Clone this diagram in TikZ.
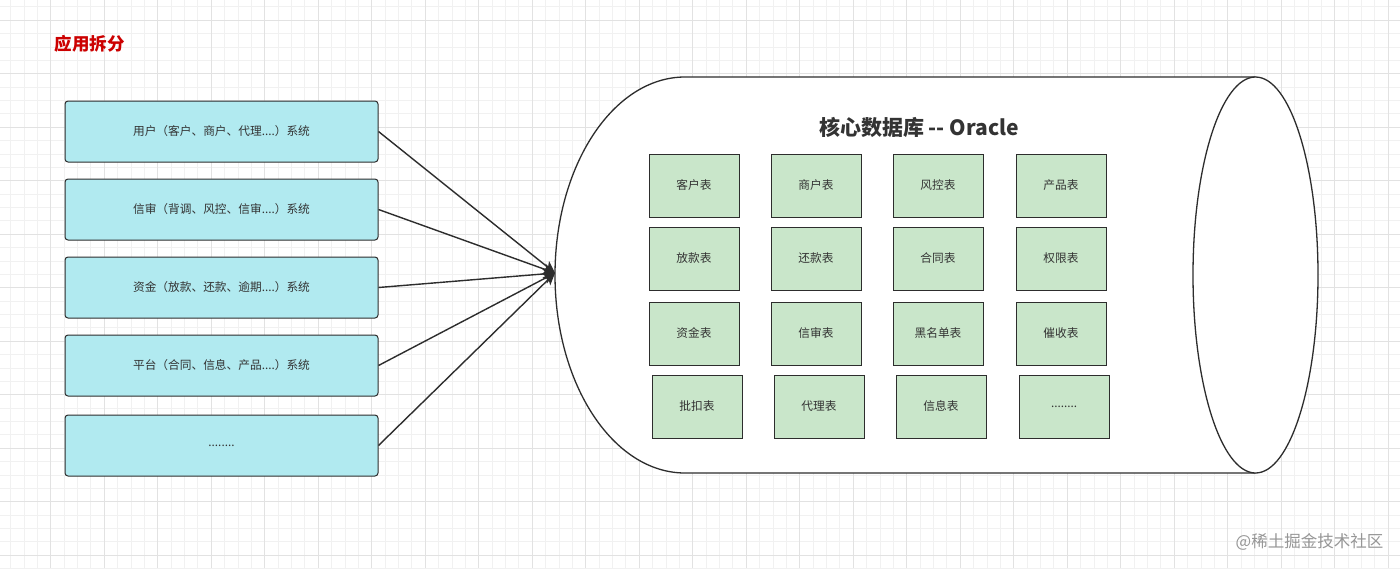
\documentclass[tikz,border=0pt]{standalone}
\usepackage{xcolor}
\usepackage{fontspec}
\setmainfont{Noto Sans CJK SC}
\usepackage{tikz}
\usetikzlibrary{arrows.meta,positioning}

\definecolor{sysfill}{RGB}{177,234,240}
\definecolor{tblfill}{RGB}{201,230,202}
\definecolor{edge}{RGB}{45,45,45}
\definecolor{txt}{RGB}{51,51,51}
\definecolor{apptitle}{RGB}{204,0,0}
\definecolor{wmgray}{RGB}{150,150,150}
\definecolor{gridminor}{RGB}{241,241,241}
\definecolor{gridmajor}{RGB}{226,226,226}

\begin{document}
\begin{tikzpicture}[x=1pt, y=-1pt,
  every node/.style={font=\fontsize{11.7}{14}\selectfont, text=txt},
  sysbox/.style={draw=edge, line width=1pt, fill=sysfill, rounded corners=3pt,
    minimum width=313pt, minimum height=61pt, inner sep=0pt},
  tblbox/.style={draw=edge, line width=1pt, fill=tblfill,
    minimum width=90pt, minimum height=63pt, inner sep=0pt},
  link/.style={-{Stealth[length=12pt,width=11pt,inset=3pt]}, line width=1.4pt, draw=edge}]
  \useasboundingbox (0,0) rectangle (1400,568);
  \fill[white] (0,0) rectangle (1400,568);
  % grid
  \foreach \k in {0,...,105} \draw[gridminor, line width=0.8pt] ({-2.8+13.375*\k},0) -- ++(0,568);
  \foreach \k in {0,...,43} \draw[gridminor, line width=0.8pt] (0,{-6.55+13.375*\k}) -- ++(1400,0);
  \foreach \k in {0,...,26} \draw[gridmajor, line width=0.8pt] ({-2.8+53.5*\k},0) -- ++(0,568);
  \foreach \k in {0,...,10} \draw[gridmajor, line width=0.8pt] (0,{20.2+53.5*\k}) -- ++(1400,0);

  \node[font=\fontsize{17.5}{20}\selectfont\bfseries, text=apptitle] (app) at (89.5,44) {应用拆分};

  \node[sysbox] (sys1) at (221.5,131.5) {用户（客户、商户、代理....）系统};
  \node[sysbox] (sys2) at (221.5,209.5) {信审（背调、风控、信审....）系统};
  \node[sysbox] (sys3) at (221.5,287.5) {资金（放款、还款、逾期....）系统};
  \node[sysbox] (sys4) at (221.5,365.5) {平台（合同、信息、产品....）系统};
  \node[sysbox] (sys5) at (221.5,445.5) {........};

  % database cylinder
  \draw[edge, line width=1.3pt, fill=white] (1255.5,77) -- (685,77)
    arc[start angle=-90, end angle=-270, x radius=130, y radius=198] -- (1255.5,473);
  \draw[edge, line width=1.3pt, fill=white] (1255.5,275) ellipse[x radius=62.5, y radius=198];
  \coordinate (dbin) at (555,273);
  \node[font=\fontsize{21}{24}\selectfont\bfseries] (dbname) at (919,127) {核心数据库 -\kern0pt- Oracle};

  \node[tblbox] (t11) at (694,185.5) {客户表};
  \node[tblbox] (t12) at (816,185.5) {商户表};
  \node[tblbox] (t13) at (938,185.5) {风控表};
  \node[tblbox] (t14) at (1061,185.5) {产品表};
  \node[tblbox] (t21) at (694,258.5) {放款表};
  \node[tblbox] (t22) at (816,258.5) {还款表};
  \node[tblbox] (t23) at (938,258.5) {合同表};
  \node[tblbox] (t24) at (1061,258.5) {权限表};
  \node[tblbox] (t31) at (694,333.5) {资金表};
  \node[tblbox] (t32) at (816,333.5) {信审表};
  \node[tblbox] (t33) at (938,333.5) {黑名单表};
  \node[tblbox] (t34) at (1061,333.5) {催收表};
  \node[tblbox] (t41) at (697,406.5) {批扣表};
  \node[tblbox] (t42) at (819,406.5) {代理表};
  \node[tblbox] (t43) at (941,406.5) {信息表};
  \node[tblbox] (t44) at (1064,406.5) {........};

  \draw[link] (sys1.east) -- (dbin);
  \draw[link] (sys2.east) -- (dbin);
  \draw[link] (sys3.east) -- (dbin);
  \draw[link] (sys4.east) -- (dbin);
  \draw[link] (sys5.east) -- (dbin);

  \node[font=\fontsize{16.5}{18}\selectfont, text=wmgray] (mark) at (1309.5,542) {@稀土掘金技术社区};
\end{tikzpicture}
\end{document}
